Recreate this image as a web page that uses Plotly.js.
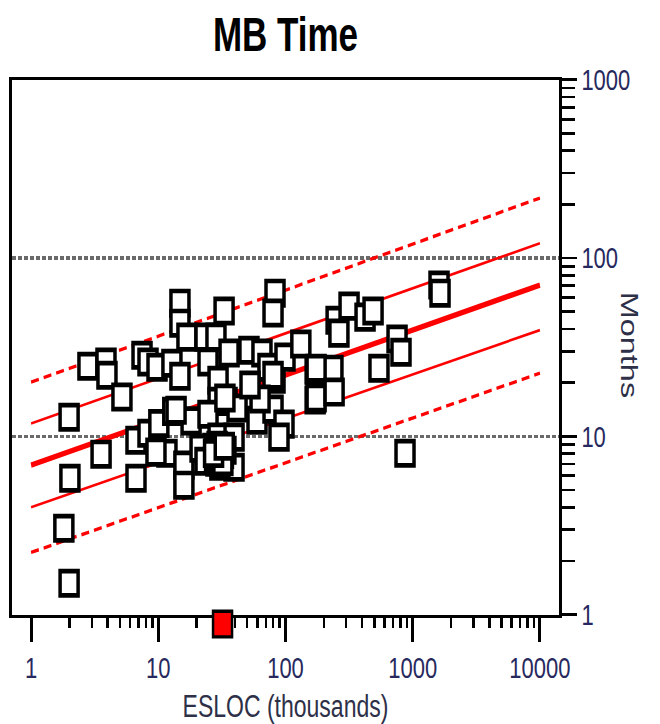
<!DOCTYPE html>
<html><head><meta charset="utf-8">
<script src="https://cdn.plot.ly/plotly-3.0.1.min.js"></script>
<style>
html,body{margin:0;padding:0;background:#fff;overflow:hidden;}
#wrap{width:660px;height:724px;overflow:hidden;}
#chart{width:660px;height:536px;transform:scaleY(1.35075);transform-origin:0 0;}
</style></head><body>
<div id="wrap"><div id="chart"></div></div>
<script>
// Observed projects: size (ESLOC, thousands) and duration (months)
const esloc = [1.81,1.99,2.02,1.99,2.80,3.88,3.95,5.18,3.55,6.68,6.68,7.45,8.30,9.77,12.8,14.8,14.8,16.8,14.8,8.30,
  10.1,13.0,18.1,11.7,15.9,15.9,23.3,24.6,32.9,28.4,36.0,29.5,51.6,65.3,72.8,82.7,99.1,132,171,236,
  29.5,34.7,24.6,59.7,79.8,97.3,171,41.6,9.59,29.5,39.4,39.4,82.7,79.8,250,316,422,488,263,1610,
  1640,753,809,543,174,174,241,79.8,870,88.9,26.9,29.5,31.7,28.4,34.0,30.5,26.9,21.3,23.3,13.8,
  33.4,63.1,52.6,27.5,30.0,32.5,29.0,31.0,27.7,28.0,30.8,29.2,32.2,27.2,33.0];
const months = [3.05,1.50,5.82,12.8,24.7,26.1,22.0,16.6,7.94,9.51,5.82,28.5,26.1,24.4,25.7,55.8,43.1,36.0,21.7,10.4,
  11.8,13.8,12.2,8.04,6.89,5.32,36.0,26.1,50.4,36.0,29.3,20.6,30.4,29.3,24.4,20.9,27.8,32.9,23.5,23.8,
  15.7,15.7,13.3,12.3,14.2,11.7,16.0,14.4,8.15,9.89,9.89,6.71,63.5,49.1,44.8,53.7,46.6,50.4,37.9,70.5,
  63.5,35.1,29.6,24.1,24.1,16.4,17.7,22.0,8.04,9.89,8.69,8.15,7.54,7.16,8.36,6.80,7.83,8.57,7.25,14.0,
  16.4,16.2,19.4,8.2,7.3,7.9,8.9,8.5,7.5,8.5,8.0,7.7,7.2,8.0,8.8];
// Trend line and bands (end points read at 1 and 10000)
const fitX = [1, 10000];
const fitMid = [6.9, 70.5];
const fitInnerHi = [11.8, 121];
const fitInnerLo = [4.0, 39.4];
const fitOuterHi = [20.1, 217];
const fitOuterLo = [2.23, 22.6];
// Current project marker on the size axis
const projectX = [32];
const projectY = [1];
// Tick labels
const xTickVals = [1, 10, 100, 1000, 10000];
const xTickText = ["1", "10", "100", "1000", "10000"];
const xMinorVals = [2,3,4,5,6,7,8,9,20,30,40,50,60,70,80,90,200,300,400,500,600,700,800,900,
  2000,3000,4000,5000,6000,7000,8000,9000];
const yTickVals = [1, 10, 100, 1000];
const yTickText = ["1", "10", "100", "1000"];

const FONT = "Liberation Sans, Arial, sans-serif";
const TICKC = "#27295e";

const traces = [
  {x: fitX, y: fitOuterHi, mode: "lines", line: {color: "#ff0000", width: 2.5, dash: "8px,5px"}},
  {x: fitX, y: fitOuterLo, mode: "lines", line: {color: "#ff0000", width: 2.5, dash: "8px,5px"}},
  {x: fitX, y: fitInnerHi, mode: "lines", line: {color: "#ff0000", width: 2}},
  {x: fitX, y: fitInnerLo, mode: "lines", line: {color: "#ff0000", width: 2}},
  {x: fitX, y: fitMid, mode: "lines", line: {color: "#ff0000", width: 4}},
  {x: esloc, y: months, mode: "markers",
   marker: {symbol: "square", size: 18, color: "#ffffff", line: {color: "#000000", width: 3.5}}},
  {x: projectX, y: projectY, mode: "markers", cliponaxis: false,
   marker: {symbol: "square", size: 19, color: "#ff0000", angle: 0, angleref: "up", standoff: 7,
            line: {color: "#000000", width: 2.5}}}
];

const layout = {
  width: 660, height: 536,
  margin: {l: 12, r: 101, t: 59, b: 81},
  paper_bgcolor: "#ffffff", plot_bgcolor: "#ffffff",
  showlegend: false, hovermode: false,
  font: {family: FONT, color: "#000"},
  title: {text: "<b>MB Time</b>", font: {family: FONT, size: 35, color: "#000"},
          x: 0.5, xref: "paper", y: 0.953, yref: "container", yanchor: "middle"},
  xaxis: {
    type: "log", range: [-0.15, 4.15], layer: "below traces",
    tickvals: xTickVals, ticktext: xTickText,
    ticks: "outside", ticklen: 18, tickwidth: 3, tickcolor: "#000",
    showline: true, linewidth: 2.3, linecolor: "#000", mirror: true,
    showgrid: false, zeroline: false,
    tickfont: {family: FONT, size: 22, color: TICKC},
    minor: {tickmode: "array", tickvals: xMinorVals, ticks: "outside", ticklen: 7.5, tickwidth: 2.5,
            tickcolor: "#000", showgrid: false},
    title: {text: "ESLOC (thousands)", font: {family: FONT, size: 23, color: "#2e3048"}, standoff: 10}
  },
  yaxis: {
    type: "log", range: [0, 3], side: "right",
    tickvals: yTickVals, ticktext: yTickText,
    ticks: "outside", ticklen: 15, tickwidth: 2.2, tickcolor: "#000",
    showline: true, linewidth: 3, linecolor: "#000", mirror: true,
    showgrid: true, gridcolor: "#6a6a6a", gridwidth: 2.4, griddash: "4px,2px",
    zeroline: false,
    tickfont: {family: FONT, size: 22, color: TICKC},
    minor: {ticks: "outside", ticklen: 13, tickwidth: 2, tickcolor: "#000", dtick: "D1", showgrid: false}
  },
  annotations: [{
    text: "Months", xref: "paper", yref: "paper", x: 1.157, y: 0.504,
    textangle: 90, showarrow: false, font: {family: FONT, size: 24, color: "#2e3048"}
  }]
};

Plotly.newPlot("chart", traces, layout, {staticPlot: true, displayModeBar: false});
</script>
</body></html>
